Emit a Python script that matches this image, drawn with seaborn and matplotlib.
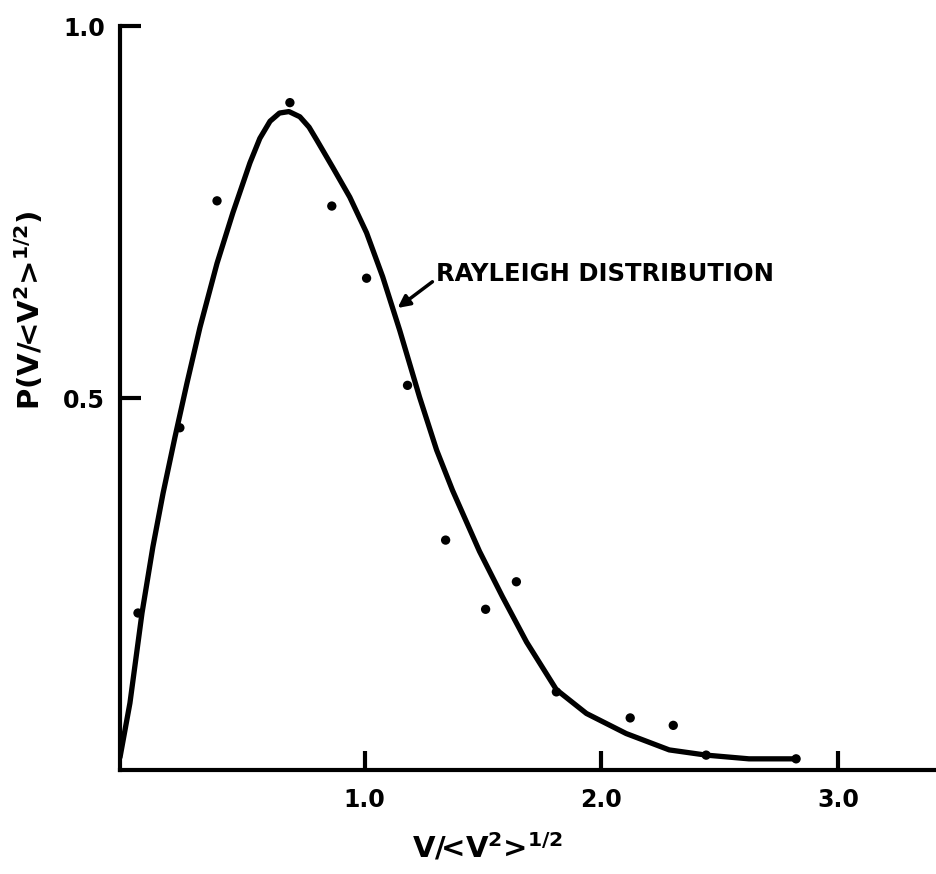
import matplotlib
matplotlib.use("Agg")
import matplotlib.pyplot as plt
import seaborn as sns
import pandas as pd

# Measured data points (dots)
point_x = [0.042, 0.219, 0.376, 0.684, 0.861, 1.008, 1.181, 1.342, 1.511, 1.641,
           1.810, 2.122, 2.304, 2.443, 2.823]
point_y = [0.211, 0.460, 0.765, 0.897, 0.758, 0.661, 0.517, 0.309, 0.216, 0.253,
           0.105, 0.070, 0.060, 0.020, 0.015]

# Rayleigh distribution curve
curve_x = [-0.034, 0.008, 0.059, 0.105, 0.148, 0.198, 0.249, 0.304, 0.376, 0.443,
           0.515, 0.557, 0.600, 0.640, 0.680, 0.726, 0.765, 0.797, 0.865, 0.937,
           1.008, 1.076, 1.148, 1.232, 1.304, 1.371, 1.485, 1.582, 1.684, 1.810,
           1.937, 2.105, 2.287, 2.443, 2.624, 2.823]
curve_y = [0.017, 0.090, 0.211, 0.300, 0.372, 0.447, 0.520, 0.595, 0.681, 0.749,
           0.816, 0.849, 0.872, 0.883, 0.885, 0.878, 0.864, 0.847, 0.810, 0.770,
           0.722, 0.663, 0.591, 0.501, 0.430, 0.376, 0.294, 0.233, 0.172, 0.108,
           0.076, 0.049, 0.027, 0.020, 0.015, 0.015]

x_ticks = [1.0, 2.0, 3.0]
x_tick_labels = ["1.0", "2.0", "3.0"]
y_ticks = [0.5, 1.0]
y_tick_labels = ["0.5", "1.0"]

annotation_text = "RAYLEIGH DISTRIBUTION"

sns.set_style("white")
plt.rcParams['font.family'] = ['DejaVu Sans']
plt.rcParams['font.weight'] = 'bold'
plt.rcParams['mathtext.default'] = 'bf'
plt.rcParams['text.color'] = 'black'
plt.rcParams['axes.labelcolor'] = 'black'
plt.rcParams['xtick.color'] = 'black'
plt.rcParams['ytick.color'] = 'black'

fig = plt.figure(figsize=(9.37, 8.74), dpi=100)
ax = fig.add_axes([120/937, (874-770)/874, (935-120)/937, (770-26)/874])

curve_df = pd.DataFrame({"x": curve_x, "y": curve_y})
points_df = pd.DataFrame({"x": point_x, "y": point_y})

sns.lineplot(data=curve_df, x="x", y="y", ax=ax, color="black", linewidth=3.8,
             sort=False, estimator=None, solid_capstyle="round",
             solid_joinstyle="round")
sns.scatterplot(data=points_df, x="x", y="y", ax=ax, color="black", s=45,
                edgecolor="none", zorder=3)

ax.set_xlim(-0.034, 3.41)
ax.set_ylim(0, 1.0)

for side in ["top", "right"]:
    ax.spines[side].set_visible(False)
for side in ["left", "bottom"]:
    ax.spines[side].set_linewidth(3.0)
    ax.spines[side].set_color("black")

ax.set_xticks(x_ticks)
ax.set_xticklabels(x_tick_labels, fontsize=17, fontweight="bold")
ax.set_yticks(y_ticks)
ax.set_yticklabels(y_tick_labels, fontsize=17, fontweight="bold")
ax.tick_params(axis="x", bottom=True, direction="in", length=14, width=3,
               pad=13, colors="black")
ax.tick_params(axis="y", left=True, direction="in", length=15, width=3,
               pad=11, colors="black")
ax.set_xlabel("")
ax.set_ylabel("")

ax.annotate(annotation_text, xy=(1.139, 0.621), xytext=(1.30, 0.666),
            fontsize=17.5, fontweight="bold", va="center", ha="left", color="black",
            arrowprops=dict(arrowstyle="-|>", color="black", lw=2.5,
                            mutation_scale=18, shrinkA=0, shrinkB=0,
                            relpos=(0.0, 0.3)))

fig.text(487/937, 1 - 848/874, r"V/<V$^2$>$^{1/2}$", fontsize=21,
         fontweight="bold", ha="center", va="center", color="black")
fig.text(30/937, 1 - 310/874, r"P(V/<V$^2$>$^{1/2}$)", fontsize=21,
         fontweight="bold", ha="center", va="center", rotation=90, color="black")

fig.savefig("out.png", dpi=100, facecolor="white")
